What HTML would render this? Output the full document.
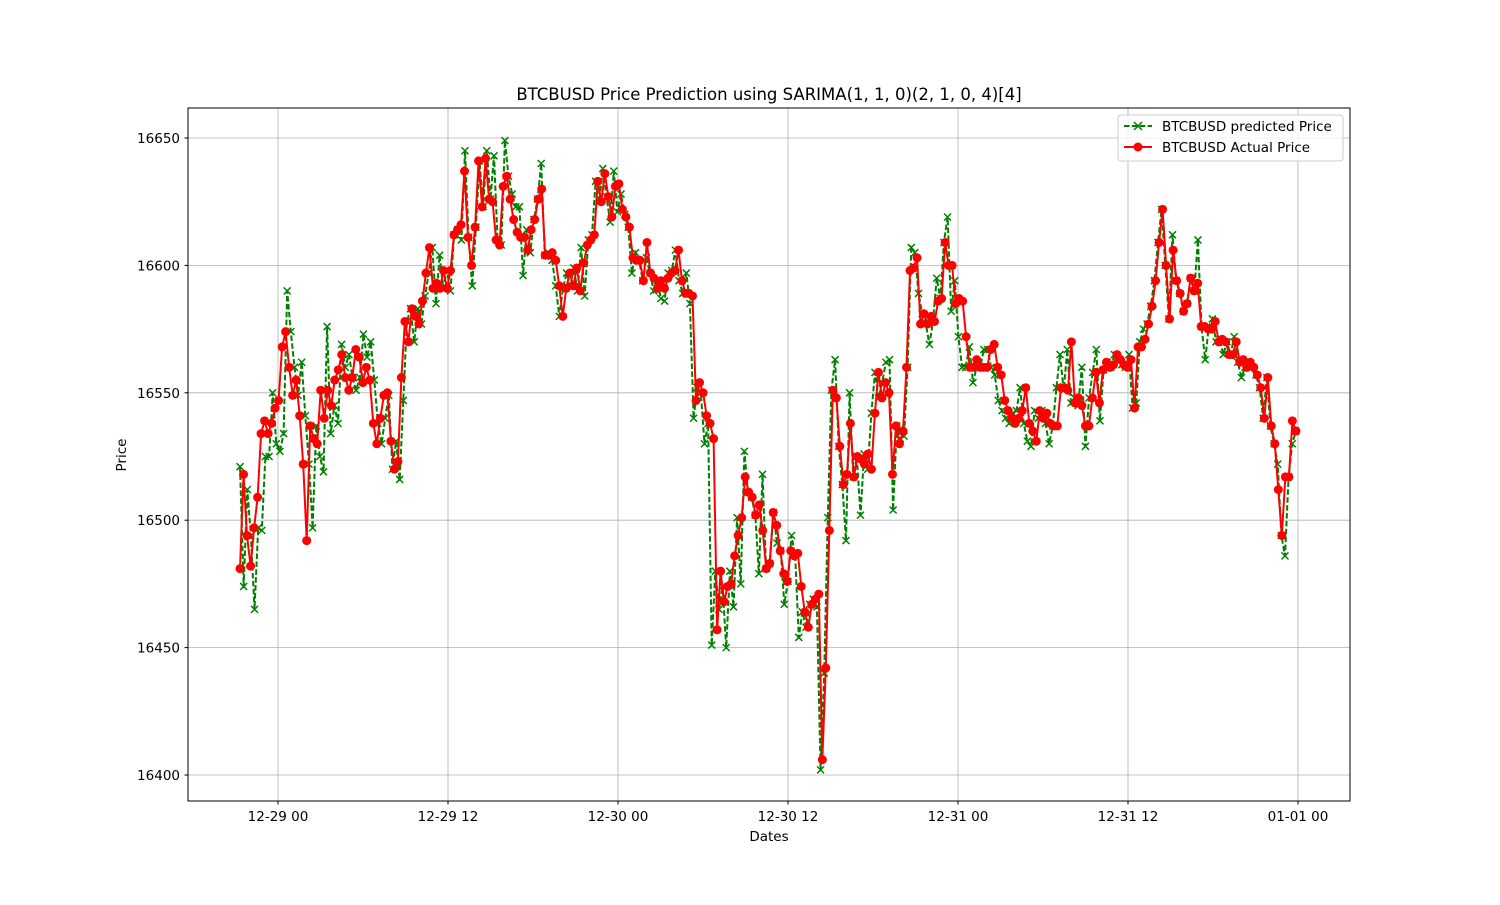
<!DOCTYPE html>
<html><head><meta charset="utf-8"><style>
body{margin:0;background:#fff;}
svg text{font-family:"DejaVu Sans","Liberation Sans",sans-serif;fill:#000;}
</style></head><body>
<svg id="chart" width="1500" height="900" xmlns="http://www.w3.org/2000/svg">
<rect width="1500" height="900" fill="#fff"/>
<text x="769" y="100" font-size="16.5" text-anchor="middle">BTCBUSD Price Prediction using SARIMA(1, 1, 0)(2, 1, 0, 4)[4]</text>
<g id="grid"></g>
<g id="series"></g>
<rect x="188" y="108" width="1162" height="693" fill="none" stroke="#000" stroke-width="1"/>
<g id="axes"></g>
<text x="769" y="841" font-size="13.5" text-anchor="middle">Dates</text>
<text x="126" y="455" font-size="13.5" text-anchor="middle" transform="rotate(-90 126 455)">Price</text>
<g>
<rect x="1118" y="115" width="225" height="46" rx="3" fill="#fff" fill-opacity="0.8" stroke="#ccc"/>
<line x1="1124" y1="126" x2="1152" y2="126" stroke="#008000" stroke-width="2" stroke-dasharray="5.5,2.4"/>
<path d="M1134,122 L1142,130 M1142,122 L1134,130" stroke="#008000" stroke-width="1.5"/>
<text x="1162" y="131" font-size="13.5">BTCBUSD predicted Price</text>
<line x1="1124" y1="147" x2="1152" y2="147" stroke="#ff0000" stroke-width="2"/>
<circle cx="1138" cy="147" r="4.5" fill="#ff0000"/>
<text x="1162" y="152" font-size="13.5">BTCBUSD Actual Price</text>
</g>
</svg>
<script>
const actual=[16481,16518,16494,16482,16497,16509,16534,16539,16534,16538,16544,16547,16568,16574,16560,16549,16555,16541,16522,16492,16537,16532,16530,16551,16540,16551,16545,16555,16559,16565,16556,16551,16556,16567,16564,16554,16560,16555,16538,16530,16540,16549,16550,16531,16520,16523,16556,16578,16570,16583,16580,16577,16586,16597,16607,16591,16593,16591,16598,16591,16598,16612,16614,16616,16637,16611,16600,16615,16641,16623,16642,16626,16625,16610,16608,16631,16635,16626,16618,16613,16611,16611,16606,16614,16618,16626,16630,16604,16604,16605,16602,16592,16580,16591,16597,16592,16599,16590,16601,16608,16610,16612,16633,16625,16636,16627,16619,16631,16632,16622,16619,16615,16603,16602,16602,16594,16609,16597,16595,16591,16594,16591,16595,16597,16598,16606,16594,16589,16589,16588,16547,16554,16550,16541,16538,16532,16457,16480,16468,16474,16475,16486,16494,16501,16517,16511,16509,16502,16506,16496,16481,16483,16503,16498,16488,16479,16476,16488,16486,16487,16474,16464,16458,16467,16469,16471,16406,16442,16496,16551,16548,16529,16514,16518,16538,16517,16525,16524,16522,16526,16520,16542,16558,16548,16554,16550,16518,16537,16530,16535,16560,16598,16599,16603,16577,16581,16577,16580,16578,16586,16587,16609,16600,16600,16585,16587,16586,16572,16560,16560,16563,16560,16560,16560,16567,16569,16560,16557,16547,16543,16540,16538,16540,16543,16552,16538,16535,16531,16543,16540,16542,16538,16537,16537,16552,16552,16551,16570,16546,16548,16545,16537,16537,16548,16558,16546,16559,16562,16560,16561,16565,16563,16561,16560,16563,16544,16568,16568,16571,16577,16584,16594,16609,16622,16600,16579,16606,16594,16589,16582,16585,16595,16590,16593,16576,16576,16575,16575,16578,16570,16571,16570,16565,16565,16570,16562,16563,16560,16562,16560,16557,16552,16540,16556,16537,16530,16512,16494,16517,16517,16539,16535];
const predicted=[16521,16474,16512,16494,16465,16497,16496,16525,16525,16550,16530,16527,16534,16590,16574,16560,16549,16562,16541,16522,16497,16537,16525,16519,16576,16534,16545,16538,16569,16560,16565,16556,16551,16556,16573,16564,16570,16555,16538,16530,16540,16549,16520,16531,16516,16547,16578,16583,16570,16583,16577,16588,16597,16607,16585,16604,16591,16598,16590,16612,16614,16610,16645,16611,16592,16615,16641,16623,16645,16626,16643,16610,16608,16649,16635,16628,16623,16623,16596,16614,16605,16618,16626,16640,16604,16605,16602,16592,16580,16591,16597,16592,16599,16590,16607,16588,16610,16612,16633,16625,16638,16627,16617,16637,16621,16628,16620,16615,16597,16605,16602,16594,16603,16597,16590,16594,16587,16586,16597,16598,16606,16594,16589,16597,16585,16540,16552,16550,16530,16538,16451,16480,16465,16474,16450,16480,16466,16501,16475,16527,16511,16509,16502,16479,16518,16481,16483,16503,16491,16488,16467,16476,16494,16486,16454,16464,16458,16467,16469,16466,16402,16440,16501,16551,16563,16529,16514,16492,16550,16517,16525,16502,16526,16520,16542,16558,16548,16554,16562,16563,16504,16537,16532,16533,16560,16607,16605,16589,16581,16577,16569,16578,16595,16587,16609,16619,16582,16594,16572,16560,16560,16568,16554,16560,16560,16567,16567,16560,16557,16547,16543,16540,16538,16542,16543,16552,16538,16531,16529,16543,16540,16543,16538,16530,16537,16552,16565,16551,16567,16546,16548,16545,16560,16529,16548,16558,16567,16539,16559,16562,16560,16565,16563,16561,16560,16565,16544,16546,16570,16575,16577,16584,16594,16609,16622,16600,16579,16612,16594,16589,16582,16585,16595,16590,16610,16576,16563,16576,16579,16570,16571,16565,16570,16565,16572,16562,16556,16560,16562,16560,16557,16552,16540,16556,16537,16530,16522,16494,16486,16517,16530,16535];
const yTicks=[16400,16450,16500,16550,16600,16650];
const xTickLabels=["12-29 00","12-29 12","12-30 00","12-30 12","12-31 00","12-31 12","01-01 00"];
const xTickHours=[0,12,24,36,48,60,72];
const startHour=-2.68, endHour=71.85;

const NS="http://www.w3.org/2000/svg";
const yS=v=>138+(16650-v)*2.548;
const xH=h=>278+h*(170/12);
const xI=(i,len)=>xH(startHour+i*(endHour-startHour)/(len-1));
function mk(tag,attrs,parent){const e=document.createElementNS(NS,tag);for(const k in attrs)e.setAttribute(k,attrs[k]);parent.appendChild(e);return e;}
const grid=document.getElementById('grid'),axes=document.getElementById('axes'),ser=document.getElementById('series');
yTicks.forEach(v=>{const y=yS(v);
 const g=mk('line',{x1:188,x2:1350,y1:y,y2:y,stroke:'#b0b0b0','stroke-width':0.8},grid);
 
 
 mk('line',{x1:184.5,x2:188,y1:y,y2:y,stroke:'#000'},axes);
 const t=mk('text',{x:180,y:y+5,'font-size':13.5,'text-anchor':'end'},axes);t.textContent=v;
 
 
});
xTickHours.forEach((h,i)=>{const x=xH(h);
 const g=mk('line',{x1:x,x2:x,y1:108,y2:801,stroke:'#b0b0b0','stroke-width':0.8},grid);
 
 
 mk('line',{x1:x,x2:x,y1:801,y2:804.5,stroke:'#000'},axes);
 const t=mk('text',{x:x,y:821,'font-size':13.5,'text-anchor':'middle'},axes);t.textContent=xTickLabels[i];
 
 
});
let pd='',ad='',pm='';
const np=predicted.length, na=actual.length;
for(let i=0;i<np;i++){const x=xI(i,np),yp=yS(predicted[i]);
 pd+=(i?'L':'M')+x.toFixed(1)+','+yp.toFixed(1);
 pm+=`M${x-3.5},${yp-3.5}L${x+3.5},${yp+3.5}M${x+3.5},${yp-3.5}L${x-3.5},${yp+3.5}`;
}
for(let i=0;i<na;i++){const x=xI(i,na),ya=yS(actual[i]);
 ad+=(i?'L':'M')+x.toFixed(1)+','+ya.toFixed(1);
}
const pl=mk('path',{d:pd,fill:'none',stroke:'#008000','stroke-width':2,'stroke-dasharray':'5.5,2.4'},ser);


const pmk=mk('path',{d:pm,fill:'none',stroke:'#008000','stroke-width':1.5},ser);


const al=mk('path',{d:ad,fill:'none',stroke:'#ff0000','stroke-width':2},ser);


for(let i=0;i<na;i++){
 const c=mk('circle',{cx:xI(i,na),cy:yS(actual[i]),r:4.5,fill:'#ff0000'},ser);
 
 
}
</script>
</body></html>
